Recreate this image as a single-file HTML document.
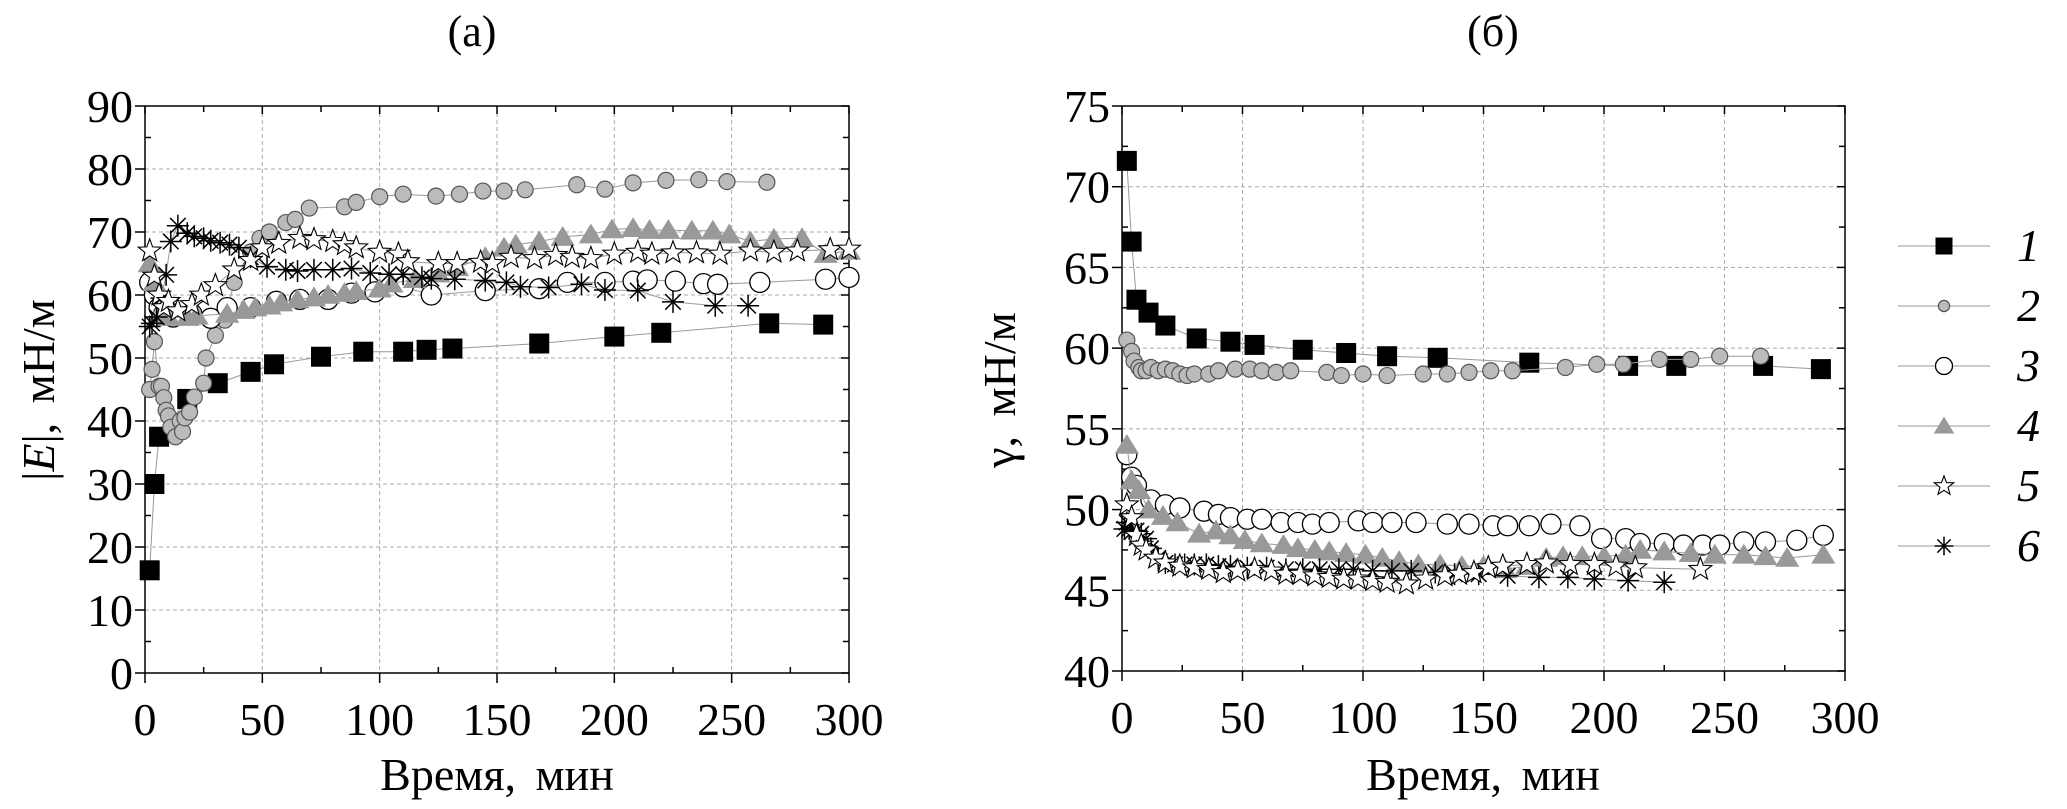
<!DOCTYPE html>
<html><head><meta charset="utf-8">
<style>
html,body{margin:0;padding:0;background:#fff;}
svg, svg text{font-family:"Liberation Serif","Times New Roman",serif;}
svg{display:block;}
</style></head>
<body>
<svg id="chart" width="2067" height="809" viewBox="0 0 2067 809" xmlns="http://www.w3.org/2000/svg" font-family="Liberation Serif, serif">
<text x="472" y="46" font-size="44" text-anchor="middle">(a)</text>
<text x="1493" y="46" font-size="44" text-anchor="middle">(б)</text>
<text transform="translate(54,390) rotate(-90)" font-size="46" text-anchor="middle" word-spacing="8">|<tspan font-style="italic">E</tspan>|, мН/м</text>
<text transform="translate(1015,390) rotate(-90)" font-size="46" text-anchor="middle" word-spacing="8">γ, мН/м</text>
<text x="497" y="790" font-size="46" text-anchor="middle" word-spacing="8">Время, мин</text>
<text x="1483" y="790" font-size="46" text-anchor="middle" word-spacing="8">Время, мин</text>
</svg>
<script>
// ---- data ----
const xTicks = [0,50,100,150,200,250,300];
const yTicksA = [0,10,20,30,40,50,60,70,80,90];
const yTicksB = [40,45,50,55,60,65,70,75];
const legendLabels = ["1","2","3","4","5","6"];

const a1x=[2,4,6,18,31,45,55,75,93,110,120,131,168,200,220,266,289];
const a1y=[16.3,30,37.5,43.5,46,47.8,49,50.2,51,51,51.3,51.5,52.3,53.4,54,55.5,55.3];
const a2x=[2,3,4,6,7,8,9,10,11,13,15,16,17,19,21,25,26,30,34,38,45,49,53,60,64,70,85,90,100,110,124,134,144,153,162,184,196,208,222,236,248,265];
const a2y=[45,48.2,52.6,45.5,45.5,43.7,41.7,40.8,39,37.5,40,38.3,40.5,41.4,43.8,46,50,53.6,56,62,66.8,69,70,71.5,72,73.8,74,74.7,75.6,76,75.7,76,76.5,76.5,76.7,77.5,76.8,77.8,78.2,78.3,78,77.9];
const a3x=[2,4,6,8,12,20,28,35,45,56,66,78,88,98,110,122,145,168,180,196,208,214,226,238,244,262,290,300];
const a3y=[62,60,58,57,56.5,57,56.3,58,58,59,59.3,59.3,60.3,60.5,61.3,60,60.7,61,62,62,62.2,62.4,62.2,61.8,61.7,62,62.5,62.8];
const a4x=[2,4,6,10,18,22,35,42,47,53,58,65,72,78,85,90,100,105,115,125,133,145,153,158,168,178,190,199,208,215,223,233,242,249,258,268,280,290,300];
const a4y=[65,62,57,56.5,56.5,56.7,57,57.6,58,58.3,58.8,59.3,59.6,60,60.3,60.6,61,61.8,62.5,63.4,64.4,66,67.5,68,68.5,69.2,69.6,70.4,70.6,70.3,70.3,70.2,70.2,69.6,68.5,68.9,69,66.5,67];
const a5x=[2,4,6,8,10,14,20,24,30,38,45,50,57,66,72,80,85,90,100,108,112,125,133,143,148,156,166,175,182,190,200,210,216,225,235,245,258,268,278,292,300];
const a5y=[67,63,60,58,59,57.5,58.5,60,61.5,64,65.5,67.5,68.2,69,68.8,68.5,68,67.5,66.8,66.5,65.3,65,65,65.2,65,66,65.8,66.3,66,65.8,66.5,66.8,66.5,66.7,66.7,66.5,67,66.8,67,67.2,67.3];
const a6x=[2,3,5,7,9,11,14,18,21,25,28,32,36,40,45,52,60,65,72,80,88,96,104,110,118,122,132,145,154,160,172,186,196,210,225,243,257];
const a6y=[55,55.5,56.5,59.5,63.2,68.5,71,69.8,69.3,69,68.6,68.3,68,67.5,66,64.5,64,63.8,64,64,64.2,63.5,63.3,63.3,62.8,62.6,62.5,62.3,62,61.3,61.2,61.7,60.8,60.7,58.9,58.3,58.3];

const b1x=[2,4,6,11,18,31,45,55,75,93,110,131,169,210,230,266,290];
const b1y=[71.6,66.6,63,62.2,61.4,60.6,60.4,60.2,59.9,59.7,59.5,59.4,59.1,58.9,58.9,58.9,58.7];
const b2x=[2,4,5,7,8,10,12,15,18,21,24,27,30,36,40,47,53,58,64,70,85,91,100,110,125,135,144,153,162,184,197,208,223,236,248,265];
const b2y=[60.5,59.8,59.2,58.8,58.6,58.6,58.8,58.6,58.7,58.6,58.4,58.3,58.4,58.4,58.6,58.7,58.7,58.6,58.5,58.6,58.5,58.3,58.4,58.3,58.4,58.4,58.5,58.6,58.6,58.8,59,59,59.3,59.3,59.5,59.5];
const b3x=[2,4,6,12,18,24,34,40,45,52,58,66,73,79,86,98,104,112,122,135,144,154,160,169,178,190,199,209,215,225,233,241,248,258,267,280,291];
const b3y=[53.4,52,51.5,50.6,50.3,50.1,49.9,49.7,49.5,49.4,49.4,49.2,49.2,49.1,49.2,49.3,49.2,49.2,49.2,49.1,49.1,49,49,49,49.1,49,48.2,48.2,47.9,47.9,47.8,47.8,47.8,48,48,48.1,48.4];
const b4x=[2,4,7,11,17,23,32,39,45,51,58,67,73,80,86,93,101,108,115,123,132,141,150,159,168,176,183,191,200,209,215,225,236,246,258,267,276,291];
const b4y=[54,51.8,51.2,50,49.6,49.2,48.5,48.7,48.4,48.1,47.9,47.8,47.6,47.5,47.4,47.3,47.2,47,46.8,46.6,46.6,46.5,46.5,46.3,46.5,47,47.1,47.1,47.1,47.2,47.5,47.4,47.3,47.2,47.2,47.1,47,47.2];
const b5x=[2,4,6,8,10,14,18,24,30,36,42,48,55,62,68,74,80,86,92,98,104,110,118,126,134,140,146,152,158,168,176,186,196,205,213,240];
const b5y=[50.3,49.5,48.4,47.8,47.5,47,46.7,46.5,46.4,46.3,46.1,46.2,46.3,46.2,46,46,45.9,45.8,45.7,45.7,45.6,45.5,45.4,45.7,45.9,46,46.1,46.4,46.5,46.6,46.7,46.6,46.6,46.5,46.4,46.3];
const b6x=[1,2,3,4,6,8,10,12,15,18,22,26,30,35,40,45,52,60,68,75,82,90,96,104,112,120,130,138,148,160,173,185,196,210,225];
const b6y=[48.8,49.2,48.8,48.6,48.7,48.5,48.2,47.6,47,46.7,46.6,46.6,46.6,46.6,46.5,46.5,46.4,46.4,46.3,46.3,46.3,46.3,46.3,46.2,46.2,46.2,46.1,46,46,45.9,45.8,45.8,45.7,45.6,45.5];

const NS="http://www.w3.org/2000/svg";
const svg=document.getElementById('chart');
function mk(tag,attrs,parent){const e=document.createElementNS(NS,tag);for(const k in attrs)e.setAttribute(k,attrs[k]);(parent||svg).appendChild(e);return e;}

const panelA={x0:145,x1:849,yTop:106,yBot:673,xMin:0,xMax:300,yMin:0,yMax:90,yTicks:yTicksA,yMinor:5,name:'left'};
const panelB={x0:1122,x1:1845,yTop:106,yBot:671,xMin:0,xMax:300,yMin:40,yMax:75,yTicks:yTicksB,yMinor:2.5,name:'right'};
function sx(p,v){return p.x0+(v-p.xMin)/(p.xMax-p.xMin)*(p.x1-p.x0);}
function sy(p,v){return p.yBot-(v-p.yMin)/(p.yMax-p.yMin)*(p.yBot-p.yTop);}

function drawAxes(p){
  const g=mk('g',{});
  
  
  xTicks.forEach(t=>{
    const X=sx(p,t);
    if(t>p.xMin&&t<p.xMax){const l=mk('line',{x1:X,x2:X,y1:p.yTop,y2:p.yBot,stroke:'#aaa','stroke-width':1,'stroke-dasharray':'4,3'},g);
      }
    mk('line',{x1:X,x2:X,y1:p.yBot,y2:p.yBot+10,stroke:'#000','stroke-width':1.5},g);
    mk('line',{x1:X,x2:X,y1:p.yTop,y2:p.yTop+8,stroke:'#000','stroke-width':1.5},g);
    const tx=mk('text',{x:X,y:p.yBot+62,'font-size':46,'text-anchor':'middle'},g);tx.textContent=t;
    
  });
  for(let t=25;t<300;t+=50){const X=sx(p,t);
    mk('line',{x1:X,x2:X,y1:p.yBot,y2:p.yBot-6,stroke:'#000','stroke-width':1.5},g);
    mk('line',{x1:X,x2:X,y1:p.yTop,y2:p.yTop+6,stroke:'#000','stroke-width':1.5},g);}
  p.yTicks.forEach(t=>{
    const Y=sy(p,t);
    if(t>p.yMin&&t<p.yMax){const l=mk('line',{x1:p.x0,x2:p.x1,y1:Y,y2:Y,stroke:'#aaa','stroke-width':1,'stroke-dasharray':'4,3'},g);
      }
    mk('line',{x1:p.x0-10,x2:p.x0,y1:Y,y2:Y,stroke:'#000','stroke-width':1.5},g);
    mk('line',{x1:p.x1,x2:p.x1-8,y1:Y,y2:Y,stroke:'#000','stroke-width':1.5},g);
    const tx=mk('text',{x:p.x0-12,y:Y+16,'font-size':46,'text-anchor':'end'},g);tx.textContent=t;
    
  });
  for(let t=p.yMin+p.yMinor;t<p.yMax;t+=p.yMinor*2){const Y=sy(p,t);
    mk('line',{x1:p.x0,x2:p.x0+6,y1:Y,y2:Y,stroke:'#000','stroke-width':1.5},g);
    mk('line',{x1:p.x1,x2:p.x1-6,y1:Y,y2:Y,stroke:'#000','stroke-width':1.5},g);}
  const r=mk('rect',{x:p.x0,y:p.yTop,width:p.x1-p.x0,height:p.yBot-p.yTop,fill:'none',stroke:'#000','stroke-width':1.5},g);
  
}

function marker(g,type,X,Y,s){
  s=s||1;
  if(type===0){mk('rect',{x:X-10*s,y:Y-10*s,width:20*s,height:20*s,fill:'#000'},g);}
  else if(type===1){mk('circle',{cx:X,cy:Y,r:8*s,fill:'#bbb',stroke:'#555','stroke-width':1.2},g);}
  else if(type===2){mk('circle',{cx:X,cy:Y,r:10*s,fill:'#fff',stroke:'#000','stroke-width':1.3},g);}
  else if(type===3){const h=11*s;mk('polygon',{points:`${X},${Y-h} ${X+h*1.1},${Y+h*0.8} ${X-h*1.1},${Y+h*0.8}`,fill:'#999'},g);}
  else if(type===4){let pts=[];for(let i=0;i<10;i++){const a=-Math.PI/2+i*Math.PI/5;const rr=(i%2?5:12)*s;pts.push((X+rr*Math.cos(a)).toFixed(1)+','+(Y+rr*Math.sin(a)).toFixed(1));}
    mk('polygon',{points:pts.join(' '),fill:'#fff',stroke:'#000','stroke-width':1.1},g);}
  else {const rr=11*s;for(let i=0;i<4;i++){const a=i*Math.PI/4;mk('line',{x1:X-rr*Math.cos(a),y1:Y-rr*Math.sin(a),x2:X+rr*Math.cos(a),y2:Y+rr*Math.sin(a),stroke:'#000','stroke-width':1.5},g);}}
}

function drawSeries(p,xs,ys,type,idx){
  const g=mk('g',{});
  
  
  const pts=xs.map((x,i)=>sx(p,x).toFixed(1)+','+sy(p,ys[i]).toFixed(1)).join(' ');
  mk('polyline',{points:pts,fill:'none',stroke:'#999','stroke-width':1},g);
  xs.forEach((x,i)=>marker(g,type,sx(p,x),sy(p,ys[i])));
}

drawAxes(panelA);drawAxes(panelB);
const A=[[a1x,a1y],[a2x,a2y],[a3x,a3y],[a4x,a4y],[a5x,a5y],[a6x,a6y]];
const B=[[b1x,b1y],[b2x,b2y],[b3x,b3y],[b4x,b4y],[b5x,b5y],[b6x,b6y]];
const order=[0,1,2,3,5,4];
order.forEach(i=>drawSeries(panelA,A[i][0],A[i][1],i,i));
order.forEach(i=>drawSeries(panelB,B[i][0],B[i][1],i,i));

// legend
const lg=mk('g',{});


legendLabels.forEach((lab,i)=>{
  const Y=246+i*60;
  const e=mk('g',{},lg);
  
  
  mk('line',{x1:1898,x2:1990,y1:Y,y2:Y,stroke:'#999','stroke-width':1},e);
  marker(e,i,1944,Y,i===1?0.7:0.85);
  const t=mk('text',{x:2017,y:Y+15,'font-size':46,'font-style':'italic'},e);t.textContent=lab;
});
</script>
</body></html>
